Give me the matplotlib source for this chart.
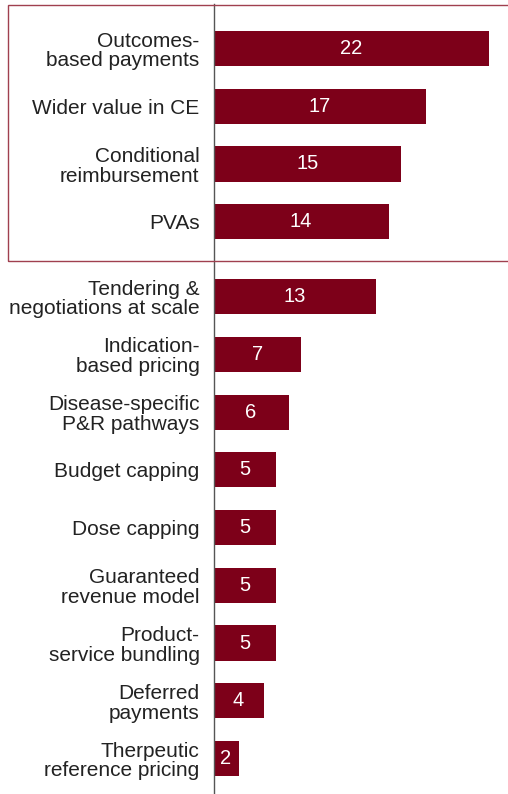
import matplotlib
matplotlib.use("Agg")
import matplotlib.pyplot as plt
from matplotlib.patches import Rectangle

categories = ["Outcomes-\nbased payments", "Wider value in CE", "Conditional\nreimbursement", "PVAs",
              "Tendering &\nnegotiations at scale", "Indication-\nbased pricing", "Disease-specific\nP&R pathways",
              "Budget capping", "Dose capping", "Guaranteed\nrevenue model", "Product-\nservice bundling",
              "Deferred\npayments", "Therpeutic\nreference pricing"]
values = [22, 17, 15, 14, 13, 7, 6, 5, 5, 5, 5, 4, 2]

W, H = 508, 794
fig = plt.figure(figsize=(W / 100, H / 100), dpi=100)
plt.rcParams['font.family'] = ['Liberation Sans', 'DejaVu Sans']

ax_left = 213.5 / W
ax_bottom = 0.0
ax_top = 4 / H
ax = fig.add_axes([ax_left, ax_bottom, 1 - ax_left, 1 - ax_top - ax_bottom])

ypos = [i if i < 4 else i + 0.3 for i in range(len(values))]
ax.barh(ypos, values, height=0.61, color='#7d0019', zorder=2)
for y, v in zip(ypos, values):
    ax.text(v / 2, y, str(v), ha='center', va='center', color='white', fontsize=14.5)

ax.set_yticks(ypos)
ax.set_yticklabels(categories, fontsize=15, color='#222222', linespacing=1.05)
ax.tick_params(axis='y', length=0, pad=10)
ax.set_xticks([])
ax.set_xlim(0, (W - 213.5) / 12.5)
ax.set_ylim(ypos[-1] + 0.615, -0.771)
for s in ['top', 'right', 'bottom']:
    ax.spines[s].set_visible(False)
ax.spines['left'].set_color('#555555')
ax.spines['left'].set_linewidth(1.0)

box = Rectangle((8 / W, 1 - 261 / H), (W + 30) / W, (261 - 5) / H, transform=fig.transFigure,
                fill=False, edgecolor='#a0404f', linewidth=1.0, clip_on=False)
fig.patches.append(box)

fig.savefig("out.png", dpi=100)
